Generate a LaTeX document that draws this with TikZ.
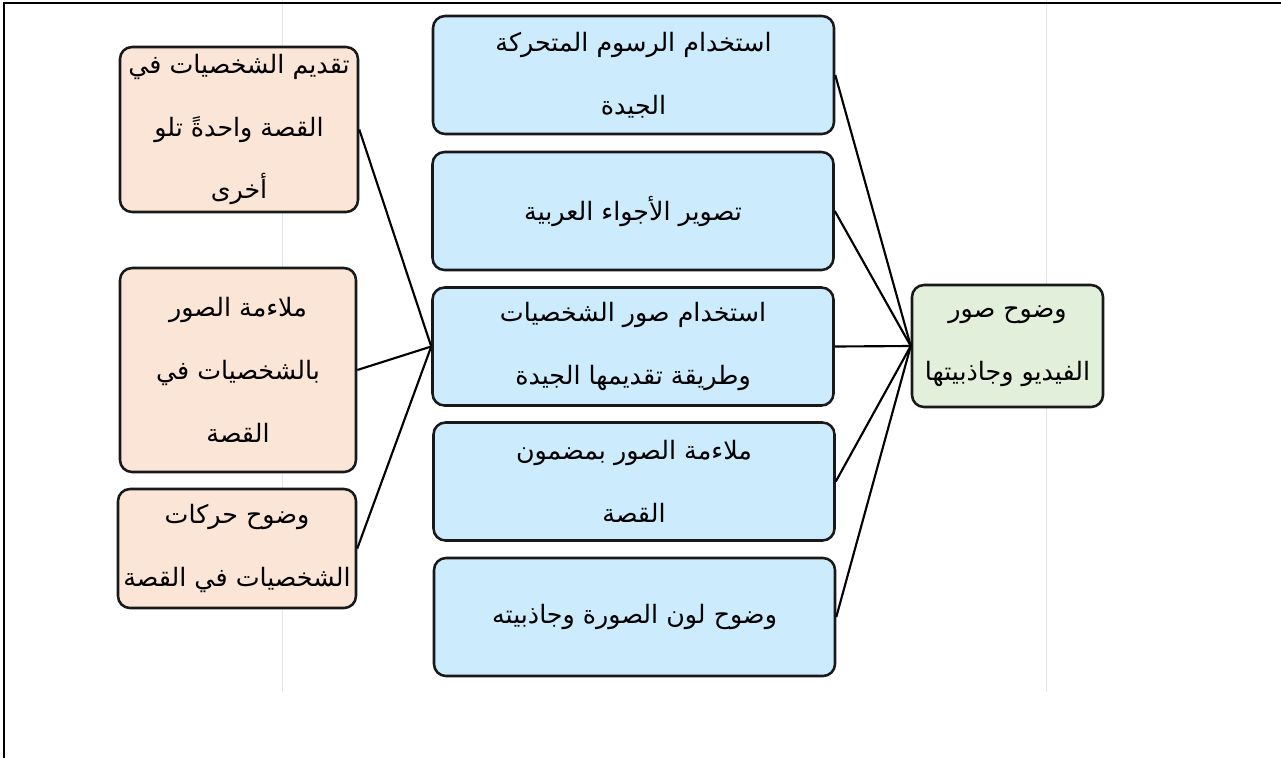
\documentclass[tikz,border=0pt]{standalone}
\usepackage{fontspec}
\newfontfamily\arabicfont[Script=Arabic]{DejaVu Sans}
\TeXXeTstate=1
\definecolor{peach}{HTML}{FBE5D6}
\definecolor{lblue}{HTML}{CCEBFC}
\definecolor{lgreen}{HTML}{E2EFDA}
\definecolor{wm}{HTML}{E6E6E6}
\tikzset{
  box/.style={draw=black!90, line width=1.9pt, rounded corners=9pt, inner sep=0pt, align=center,
    font=\arabicfont\fontsize{19}{47}\selectfont},
  lbox/.style={box, fill=peach},
  mbox/.style={box, fill=lblue, minimum width=300.75pt, minimum height=88.5pt},
  rbox/.style={box, fill=lgreen, minimum width=143.25pt, minimum height=91.5pt},
  link/.style={draw=black, line width=1.6pt}
}
\begin{document}
\begin{tikzpicture}[x=0.75pt,y=-0.75pt]
\useasboundingbox (0,0) rectangle (1281,758);
\fill[white] (0,0) rectangle (1281,758);
% faint page lines
\draw[wm, line width=0.75pt] (282,0) -- (282,692);
\draw[wm, line width=0.75pt] (1046,0) -- (1046,692);
% frame
\draw[black, line width=2pt] (4,758) -- (4,3) -- (1281,3);

\node[lbox, minimum width=178.5pt, minimum height=123.75pt] (L1) at (239,129.5)
  {\beginR تقديم الشخصيات في\endR\\\beginR القصة واحدةً تلو\endR\\\beginR أخرى\endR};
\node[lbox, minimum width=177pt, minimum height=153pt] (L2) at (238,370)
  {\beginR ملاءمة الصور\endR\\\beginR بالشخصيات في\endR\\\beginR القصة\endR};
\node[lbox, minimum width=178.5pt, minimum height=89.25pt] (L3) at (237,548.5)
  {\beginR وضوح حركات\endR\\\beginR الشخصيات في القصة\endR};

\node[mbox] (M1) at (633.5,75)
  {\beginR استخدام الرسوم المتحركة\endR\\\beginR الجيدة\endR};
\node[mbox] (M2) at (633,211)
  {\beginR تصوير الأجواء العربية\endR};
\node[mbox] (M3) at (633,346.5)
  {\beginR استخدام صور الشخصيات\endR\\\beginR وطريقة تقديمها الجيدة\endR};
\node[mbox] (M4) at (634,481.5)
  {\beginR ملاءمة الصور بمضمون\endR\\\beginR القصة\endR};
\node[mbox] (M5) at (634.5,617)
  {\beginR وضوح لون الصورة وجاذبيته\endR};

\node[rbox] (R) at (1007.5,346)
  {\beginR وضوح صور\endR\\\beginR الفيديو وجاذبيتها\endR};

\foreach \n in {L1,L2,L3} \draw[link] (\n.east) -- (M3.west);
\foreach \n in {M1,M2,M3,M4,M5} \draw[link] (\n.east) -- (R.west);
\end{tikzpicture}
\end{document}
